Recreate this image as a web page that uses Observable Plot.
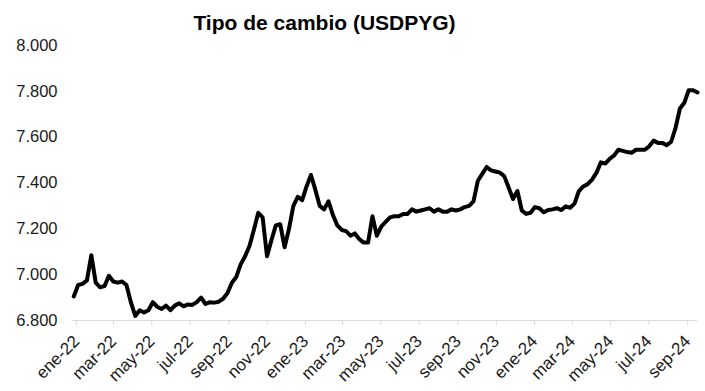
<!DOCTYPE html>
<html>
<head>
<meta charset="utf-8">
<script src="https://cdn.jsdelivr.net/npm/d3@7"></script>
<script src="https://cdn.jsdelivr.net/npm/@observablehq/plot@0.6"></script>
<style>
  body { margin: 0; background: #fff; font-family: "Liberation Sans", Arial, sans-serif; }
  #title { width: 705px; height: 30px; box-sizing: border-box; padding-right: 56px; padding-top: 12px;
           text-align: center; font-weight: bold; font-size: 21px; line-height: 22px; color: #000; }
</style>
</head>
<body>
<div id="title">Tipo de cambio (USDPYG)</div>
<div id="chart"></div>
<script>
// Weekly USD/PYG values, starting first week of January 2022
const startDate = "2022-01-03";
const values = [
  6905, 6955, 6960, 6975, 7085, 6965, 6945, 6950, 6995, 6970,
  6965, 6970, 6955, 6880, 6820, 6845, 6835, 6845, 6880, 6860,
  6850, 6865, 6845, 6865, 6875, 6862, 6870, 6868, 6880, 6900,
  6872, 6880, 6878, 6882, 6895, 6920, 6965, 6990, 7045, 7080,
  7125, 7195, 7270, 7250, 7080, 7150, 7215, 7220, 7120, 7200,
  7300, 7340, 7325, 7385, 7435, 7370, 7300, 7285, 7320, 7260,
  7215, 7195, 7190, 7170, 7180, 7155, 7140, 7140, 7255, 7170,
  7210, 7230, 7250, 7255, 7255, 7265, 7265, 7285, 7275, 7280,
  7285, 7290, 7275, 7285, 7275, 7275, 7285, 7280, 7285, 7295,
  7300, 7320, 7410, 7440, 7470, 7455, 7450, 7445, 7430, 7380,
  7330, 7365, 7280, 7265, 7270, 7295, 7290, 7272, 7282, 7285,
  7290, 7282, 7298, 7292, 7310, 7365, 7385, 7395, 7415, 7445,
  7490, 7485, 7505, 7520, 7545, 7540, 7535, 7532, 7545, 7545,
  7545, 7560, 7585, 7575, 7575, 7565, 7580, 7640, 7725, 7750,
  7805, 7805, 7795
];

const xTickDates = ["2022-01-01","2022-03-01","2022-05-01","2022-07-01","2022-09-01","2022-11-01",
  "2023-01-01","2023-03-01","2023-05-01","2023-07-01","2023-09-01","2023-11-01",
  "2024-01-01","2024-03-01","2024-05-01","2024-07-01","2024-09-01"];
const xTickLabels = ["ene-22","mar-22","may-22","jul-22","sep-22","nov-22",
  "ene-23","mar-23","may-23","jul-23","sep-23","nov-23",
  "ene-24","mar-24","may-24","jul-24","sep-24"];
const yTicks = [6800, 7000, 7200, 7400, 7600, 7800, 8000];
const yTickLabels = ["6.800","7.000","7.200","7.400","7.600","7.800","8.000"];

const start = new Date(startDate);
const data = values.map((v, i) => ({date: d3.utcDay.offset(start, 7 * i), value: v}));
const xTicks = xTickDates.map(s => new Date(s));
const xLabelMap = new Map(xTicks.map((d, i) => [+d, xTickLabels[i]]));
const yLabelMap = new Map(yTicks.map((d, i) => [d, yTickLabels[i]]));

const chart = Plot.plot({
  width: 705,
  height: 361,
  marginLeft: 72,
  marginRight: 8,
  marginTop: 15,
  marginBottom: 71,
  style: {fontFamily: "'Liberation Sans', Arial, sans-serif", background: "#fff", overflow: "visible"},
  x: {type: "utc", domain: [new Date("2022-01-01"), data[data.length - 1].date]},
  y: {domain: [6800, 8000]},
  marks: [
    Plot.ruleY([6800], {stroke: "#d9d9d9", strokeWidth: 1}),
    Plot.axisY({ticks: yTicks, tickSize: 0, tickPadding: 15, fontSize: 16.5, fill: "#1a1a1a",
      tickFormat: d => yLabelMap.get(d), label: null}),
    Plot.axisX({ticks: xTicks, tickSize: 5, stroke: "#d9d9d9", fill: "#1a1a1a", fontSize: 17,
      tickRotate: -45, tickPadding: 13, dx: 4, textAnchor: "end",
      tickFormat: d => xLabelMap.get(+d), label: null}),
    Plot.line(data, {x: "date", y: "value", stroke: "#000", strokeWidth: 4,
      strokeLinejoin: "round", strokeLinecap: "round"})
  ]
});
document.getElementById("chart").appendChild(chart);
</script>
</body>
</html>
